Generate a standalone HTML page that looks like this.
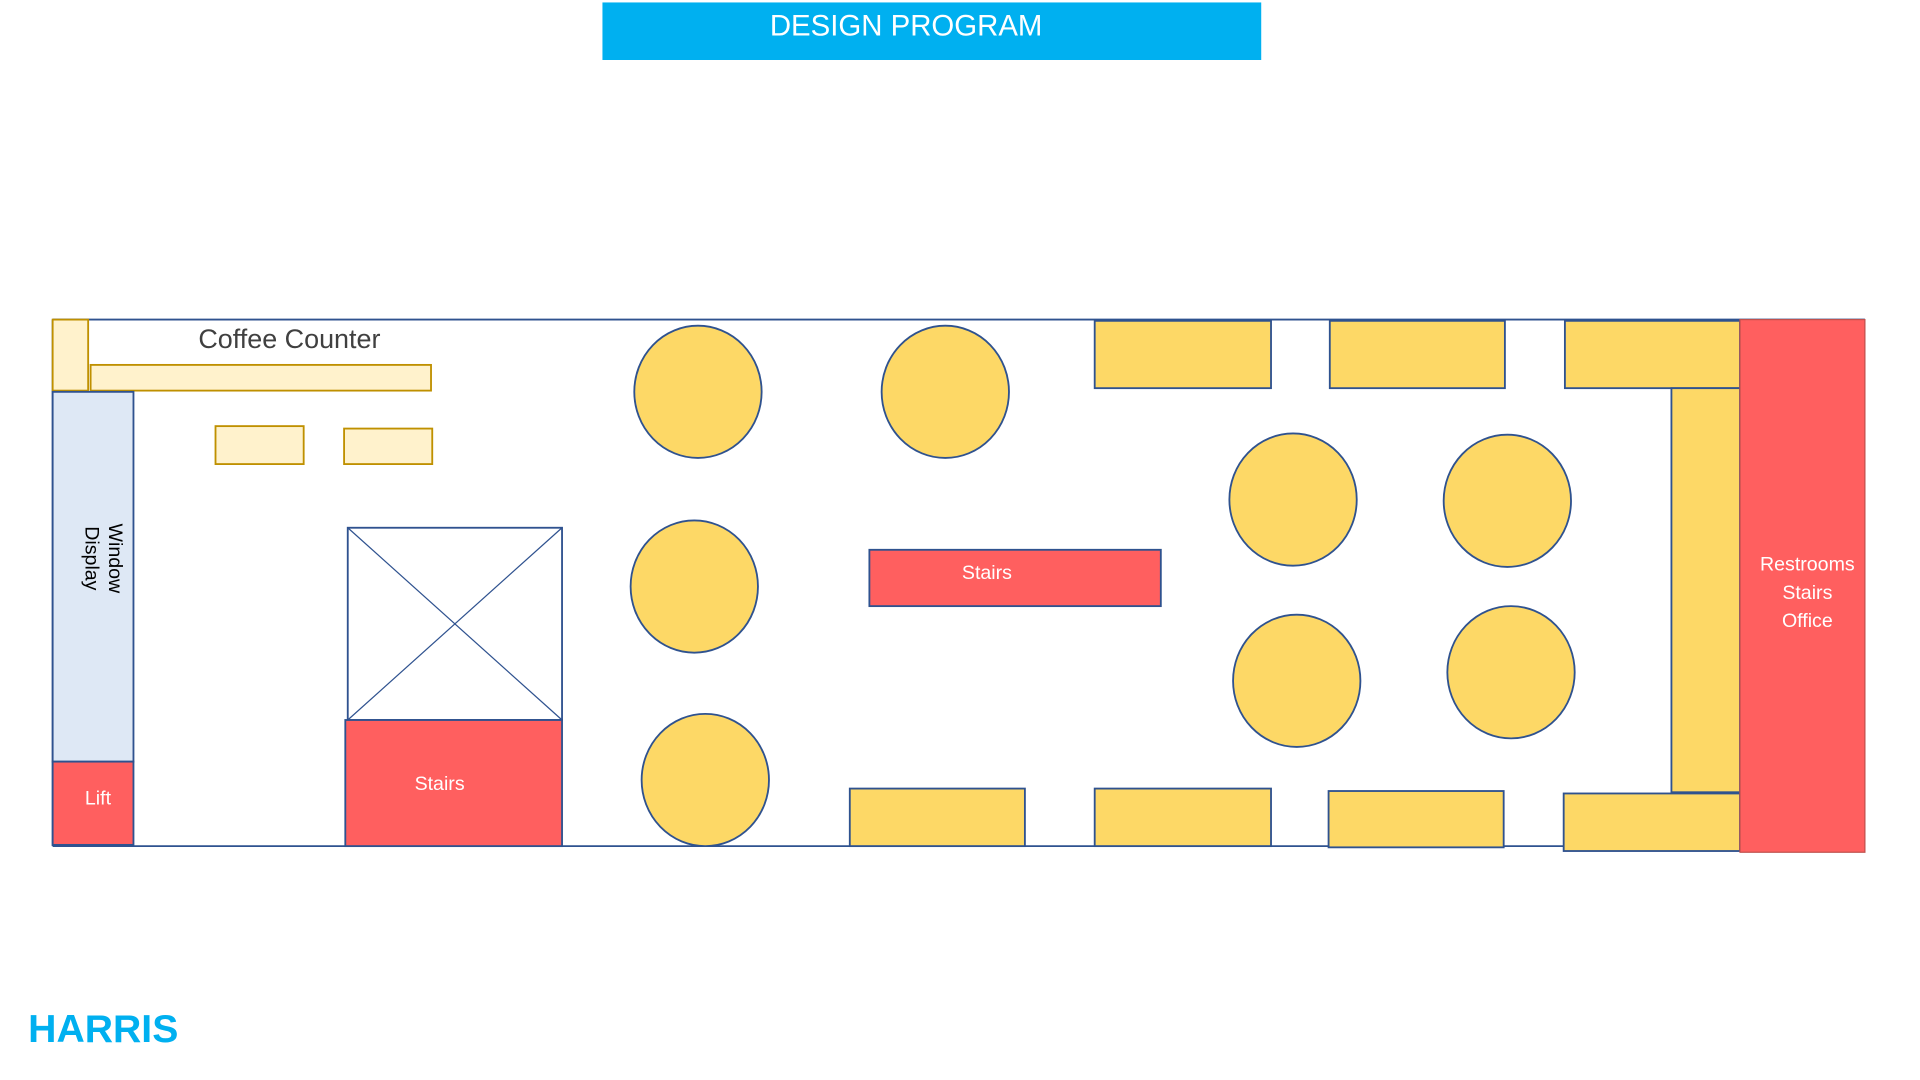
<!DOCTYPE html>
<html><head><meta charset="utf-8"><style>
html,body{margin:0;padding:0;background:#fff;width:1920px;height:1080px;overflow:hidden}
svg{display:block}
text{font-family:"Liberation Sans",sans-serif}
</style></head><body>
<svg width="1920" height="1080" viewBox="0 0 1568 882" preserveAspectRatio="none" xmlns="http://www.w3.org/2000/svg">
<rect x="492" y="2" width="538" height="47" fill="#00b0f0"/>
<text x="740" y="29" font-size="24" fill="#fff" text-anchor="middle">DESIGN PROGRAM</text>
<g stroke="#2f528f" stroke-width="1.5" fill="none">
<line x1="43" y1="261" x2="1523" y2="261"/>
<line x1="43" y1="261" x2="43" y2="691"/>
<line x1="43" y1="691" x2="1421" y2="691"/>
</g>
<g fill="#fff2cc" stroke="#bf9000" stroke-width="1.5">
<rect x="43" y="261" width="29" height="58"/>
<rect x="74" y="298" width="278" height="21"/>
<rect x="176" y="348" width="72" height="31"/>
<rect x="281" y="350" width="72" height="29"/>
</g>
<text x="162" y="284" font-size="22" fill="#404040">Coffee Counter</text>
<rect x="43" y="320" width="66" height="302" fill="#dee8f5" stroke="#2f528f" stroke-width="1.5"/>
<text transform="translate(83,456) rotate(90)" font-size="16" fill="#000" text-anchor="middle"><tspan x="0" y="-6">Window</tspan><tspan x="0" y="13">Display</tspan></text>
<rect x="43" y="622" width="66" height="68" fill="#ff5f5f" stroke="#2f528f" stroke-width="1.5"/>
<text x="80" y="657" font-size="16" fill="#fff" text-anchor="middle">Lift</text>
<rect x="284" y="431" width="175" height="157" fill="#fff" stroke="#2f528f" stroke-width="1.5"/>
<line x1="284" y1="431" x2="459" y2="588" stroke="#2f528f" stroke-width="1"/>
<line x1="459" y1="431" x2="284" y2="588" stroke="#2f528f" stroke-width="1"/>
<rect x="282" y="588" width="177" height="103" fill="#ff5f5f" stroke="#2f528f" stroke-width="1.5"/>
<text x="359" y="645" font-size="16" fill="#fff" text-anchor="middle">Stairs</text>
<rect x="710" y="449" width="238" height="46" fill="#ff5f5f" stroke="#2f528f" stroke-width="1.5"/>
<text x="806" y="473" font-size="16" fill="#fff" text-anchor="middle">Stairs</text>
<g fill="#fdd866" stroke="#2f528f" stroke-width="1.5">
<ellipse cx="570" cy="320" rx="52" ry="54"/>
<ellipse cx="772" cy="320" rx="52" ry="54"/>
<ellipse cx="567" cy="479" rx="52" ry="54"/>
<ellipse cx="576" cy="637" rx="52" ry="54"/>
<ellipse cx="1056" cy="408" rx="52" ry="54"/>
<ellipse cx="1231" cy="409" rx="52" ry="54"/>
<ellipse cx="1059" cy="556" rx="52" ry="54"/>
<ellipse cx="1234" cy="549" rx="52" ry="54"/>
<rect x="894" y="262" width="144" height="55"/>
<rect x="1086" y="262" width="143" height="55"/>
<rect x="1278" y="262" width="143" height="55"/>
<rect x="1365" y="317" width="56" height="330"/>
<rect x="694" y="644" width="143" height="47"/>
<rect x="894" y="644" width="144" height="47"/>
<rect x="1085" y="646" width="143" height="46"/>
<rect x="1277" y="648" width="144" height="47"/>
</g>
<rect x="1421" y="261" width="102" height="435" fill="#ff5f5f" stroke="#c0504d" stroke-width="1"/>
<text font-size="16" fill="#fff" text-anchor="middle"><tspan x="1476" y="466">Restrooms</tspan><tspan x="1476" y="489">Stairs</tspan><tspan x="1476" y="512">Office</tspan></text>
<text x="23" y="851" font-size="32" font-weight="bold" fill="#00b0f0">HARRIS</text>
</svg>
</body></html>
